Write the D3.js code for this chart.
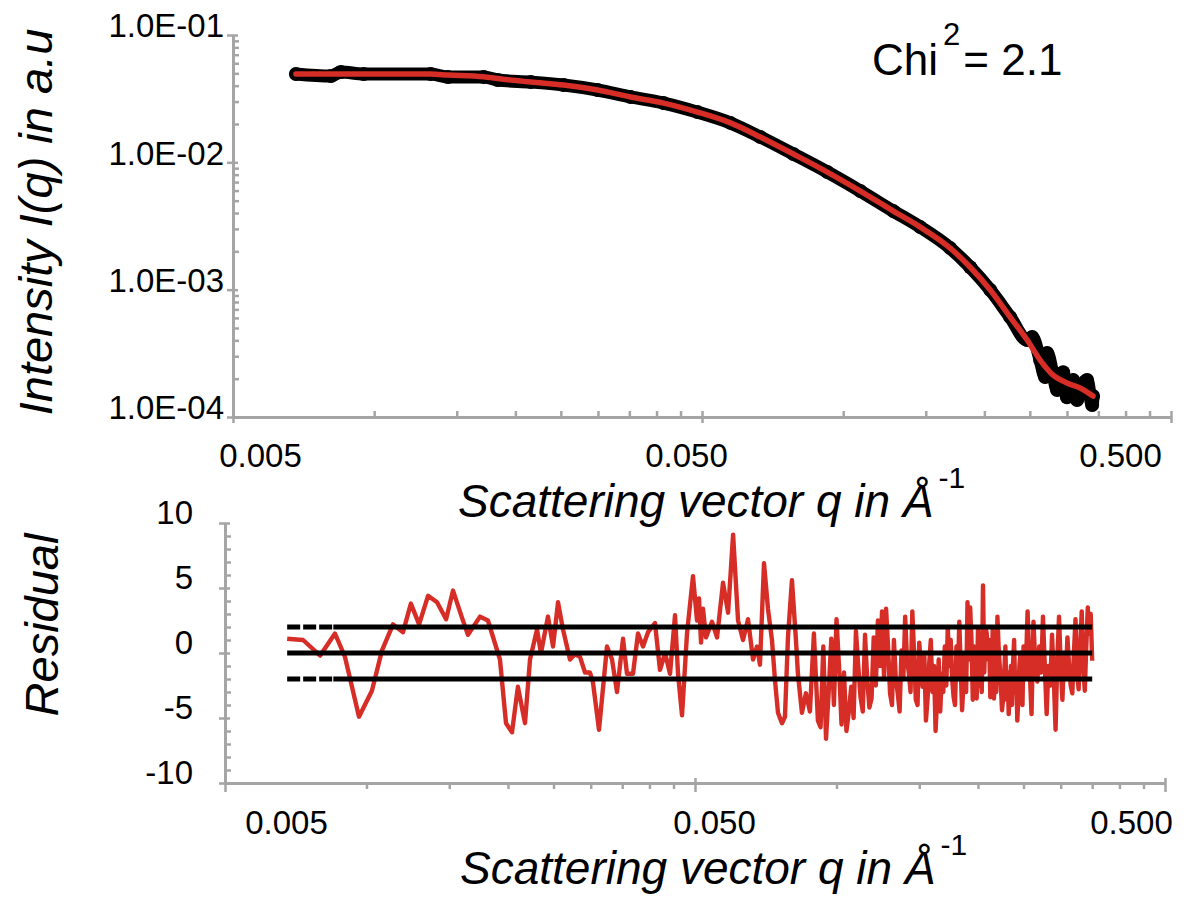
<!DOCTYPE html>
<html>
<head>
<meta charset="utf-8">
<script src="https://cdn.jsdelivr.net/npm/d3@7"></script>
<style>
  body { margin: 0; background: #fff; }
  svg { display: block; }
  text { font-family: "Liberation Sans", Arial, sans-serif; }
</style>
</head>
<body>
<div id="chart"></div>
<script>
// ---- fitted curve (red)
const fitQ = [0.00681, 0.0095, 0.0132, 0.01436, 0.01712, 0.01834, 0.02157, 0.02535, 0.02995, 0.03521,
  0.0414, 0.0489, 0.0575, 0.0666, 0.0783, 0.0925, 0.1088, 0.1279, 0.146, 0.1691,
  0.1866, 0.2059, 0.227, 0.2468, 0.263, 0.2804, 0.300, 0.320, 0.341];
const fitI = [0.0494, 0.0494, 0.0493, 0.0485, 0.0470, 0.0455, 0.0427, 0.0405, 0.0370, 0.0326,
  0.0292, 0.0248, 0.0204, 0.0158, 0.01162, 0.00839, 0.00595, 0.00414, 0.0031, 0.00212,
  0.00150, 0.000993, 0.000609, 0.000402, 0.00028, 0.000213, 0.000185, 0.000169, 0.000146];

// ---- measured intensity (black)
const obsQ = [0.00681, 0.00809, 0.00849, 0.0095, 0.0132, 0.01436, 0.01712, 0.01834, 0.02157, 0.02535,
  0.02995, 0.03521, 0.0414, 0.0489, 0.0575, 0.0666, 0.0783, 0.0925, 0.1088, 0.1279,
  0.146, 0.1691, 0.1866, 0.2059, 0.227, 0.2468, 0.2529, 0.263, 0.2695, 0.2722,
  0.2804, 0.2859, 0.2944, 0.300, 0.3092, 0.3153, 0.320, 0.3312, 0.3395, 0.341];
const obsI = [0.0494, 0.0476, 0.0512, 0.0494, 0.0494, 0.0468, 0.0468, 0.0443, 0.0427, 0.0405,
  0.0370, 0.0326, 0.0292, 0.0248, 0.0204, 0.0158, 0.01162, 0.00839, 0.00595, 0.00414,
  0.0031, 0.00212, 0.00150, 0.000993, 0.000609, 0.000402, 0.000425, 0.00028, 0.000206, 0.000318,
  0.000213, 0.000163, 0.000225, 0.000143, 0.000195, 0.000136, 0.000169, 0.000195, 0.000124, 0.000146];

// ---- residuals
const resQ = [0.00678, 0.00733, 0.00797, 0.00857, 0.0090, 0.00964, 0.01027, 0.01079, 0.01139, 0.01196,
  0.01243, 0.01294, 0.01352, 0.01413, 0.01477, 0.01528, 0.01597, 0.01644, 0.01744, 0.01813,
  0.01923, 0.01981, 0.0204, 0.0210, 0.02174, 0.02228, 0.02306, 0.02351, 0.02433, 0.02494,
  0.02556, 0.02619, 0.0271, 0.02777, 0.02846, 0.02917, 0.02989, 0.03034, 0.03124, 0.03249,
  0.0333, 0.03412, 0.03514, 0.03583, 0.0369, 0.03782, 0.03876, 0.03972, 0.0411, 0.04212,
  0.04318, 0.04424, 0.04534, 0.04601, 0.04692, 0.04808, 0.04951, 0.0505, 0.051, 0.0515,
  0.0520, 0.05277, 0.05434, 0.0557, 0.05736, 0.0588, 0.06026, 0.06174, 0.06326, 0.06483,
  0.06644, 0.06775, 0.06874, 0.07011, 0.07149, 0.0729, 0.07399, 0.07508, 0.07656, 0.0777,
  0.07884, 0.0804, 0.08199, 0.08279, 0.08443, 0.0861, 0.0878, 0.08953, 0.0913,
  0.0925, 0.09375, 0.095, 0.09625, 0.0975, 0.09875, 0.1, 0.10125, 0.1025, 0.10375,
  0.105, 0.10625, 0.1075, 0.10875, 0.11, 0.11125, 0.1125, 0.11375, 0.115, 0.11625,
  0.1175, 0.11875, 0.12, 0.12125, 0.1225, 0.12375, 0.125, 0.12625, 0.1275, 0.12875,
  0.13, 0.13125, 0.1325, 0.13375, 0.135, 0.13625, 0.1375, 0.13875, 0.14, 0.14125,
  0.1425, 0.14375, 0.145, 0.14625, 0.1475, 0.14875, 0.15, 0.15125, 0.1525, 0.15375,
  0.155, 0.15625, 0.1575, 0.15875, 0.16, 0.16125, 0.1625, 0.16375, 0.165, 0.16625,
  0.1675, 0.16875, 0.17, 0.17125, 0.1725, 0.17375, 0.175, 0.17625, 0.1775, 0.17875,
  0.18, 0.18125, 0.1825, 0.18375, 0.185, 0.18625, 0.1875, 0.18875, 0.19, 0.19125,
  0.1925, 0.19375, 0.195, 0.19625, 0.1975, 0.19875, 0.2, 0.20125, 0.2025, 0.20375,
  0.205, 0.20625, 0.2075, 0.20875, 0.21, 0.21125, 0.2125, 0.21375, 0.215, 0.21625,
  0.2175, 0.21875, 0.22, 0.22125, 0.2225, 0.22375, 0.225, 0.22625, 0.2275, 0.22875,
  0.23, 0.23125, 0.2325, 0.23375, 0.235, 0.23625, 0.2375, 0.23875, 0.24, 0.24125,
  0.2425, 0.24375, 0.245, 0.24625, 0.2475, 0.24875, 0.25,
  0.2525, 0.255, 0.2575, 0.26, 0.2625, 0.265, 0.2675, 0.27, 0.2725, 0.275,
  0.2775, 0.28, 0.2825, 0.285, 0.2875, 0.29, 0.2925, 0.295, 0.2975, 0.3,
  0.3025, 0.305, 0.3075, 0.31, 0.3125, 0.315, 0.3175, 0.32, 0.3225, 0.325,
  0.3275, 0.33, 0.3325, 0.335, 0.3375, 0.34, 0.3425, 0.345, 0.3475, 0.35];
const resVal = [1.1, 1.0, -0.2, 1.5, -0.3, -4.9, -2.9, 0.2, 2.2, 1.6,
  3.8, 2.2, 4.4, 3.9, 2.6, 4.8, 2.7, 1.4, 2.8, 2.5,
  -0.5, -5.4, -6.1, -2.6, -5.4, -0.5, 1.8, 0, 2.8, 0.5,
  3.9, 1.8, -0.5, -0.1, -0.3, -1.5, -1.5, -2.3, -5.9, 0.5,
  -0.5, -3.0, 1.1, -1.6, -1.6, 1.5, 0.5, 1.6, 2.3, -1.3,
  0, -1.6, 2.9, -1.6, -4.8, 1.5, 5.9, 2.5, 4.2, 0.8,
  3.4, 1.2, 2.4, 1.2, 5.4, 3.1, 9.1, 2.5, 1.0, 2.6,
  -0.5, 0.5, -0.9, 6.9, 3.4, 1.0, -2.1, -4.6, -5.4, -4.9,
  1.2, 5.6, 1.0, -1.6, -4.6, -3.1, -4.5, 1.5, -5.2,
  -5.7, 0.5, -6.6, -3.0, 1.1, -4.0, 2.6, -1.0, -5.5, -1.5,
  -6.0, -4.5, -2.6, -5.0, 1.7, -1.0, -3.4, -4.5, 1.4, -2.0,
  -4.2, -3.5, 1.2, -2.5, 2.5, -1.0, 3.2, -2.0, 3.4, 0.5,
  -3.1, -4.0, 1.0, -2.0, -3.1, -4.5, 0.2, -2.0, 2.8, -0.5,
  -1.5, -3.0, 3.2, 0.0, -3.6, -4.0, 0.8, -1.0, -2.6, 0.0,
  -5.2, -3.5, -0.8, 1.0, -3.0, -1.0, -6.0, -3.5, -0.5, -4.5,
  -1.6, -3.0, 0.5, -2.5, 2.0, -1.0, 1.0, -2.0, -3.4, -4.0,
  0.5, -2.0, 2.4, -1.0, -4.4, -2.5, 0.0, -3.0, 3.9, -0.5,
  3.5, 1.0, -3.6, 0.5, -1.0, -3.5, 1.8, -2.5, -1.5, -3.0,
  5.2, -1.5, 2.0, 1.5, -0.5, 1.0, -3.4, -2.0, 1.8, -3.5,
  -2.0, -3.0, 2.8, 0.5, -1.0, -2.5, -4.4, -3.5, -1.5, 0.5,
  -3.6, -1.5, -4.7, -3.0, -1.0, -4.0, -0.8, 1.0, -3.0, -1.5,
  -5.2, -3.5, -1.0, 0.0, -3.6, -4.0, 0.5,
  -2.0, 3.2, -1.0, -4.7, 2.4, -1.0, -2.2, 0.5, -1.5, 2.8,
  -1.0, -4.7, -1.0, -2.5, 1.4, -2.0, -5.9, -0.5, 2.8, -1.0,
  -3.6, 0.0, -2.0, 1.2, -1.0, -2.5, -3.1, 0.0, 2.6, -1.5,
  -2.8, 0.5, 3.2, -1.0, -2.9, 0.5, 3.5, 1.5, 3.0, -0.6];
const bandLevels = [-2, 0, 2];

// ---- ticks and labels
const qMajorTicks = [0.005, 0.05, 0.5];
const qMinorTicks = [0.01, 0.015, 0.02, 0.025, 0.03, 0.035, 0.04, 0.045,
  0.1, 0.15, 0.2, 0.25, 0.3, 0.35, 0.4, 0.45];
const intensityTicks = [1e-4, 1e-3, 1e-2, 1e-1];
const intensityTickLabels = ["1.0E-04", "1.0E-03", "1.0E-02", "1.0E-01"];
const residualTicks = [-10, -5, 0, 5, 10];
const chiValue = "2.1";

const W = 1195, H = 897;
const gray = "#a5a5a5", red = "#d62d27";

const svg = d3.select("#chart").append("svg")
    .attr("width", W)
    .attr("height", H);

const x1 = d3.scaleLog().domain([0.005, 0.5]).range([233, 1171]);
const y1 = d3.scaleLog().domain([1e-4, 1e-1]).range([417, 35]);
const x2 = d3.scaleLog().domain([0.005, 0.5]).range([225, 1165]);
const y2 = d3.scaleLinear().domain([-10, 10]).range([783, 523]);

function styleAxis(g) {
  g.attr("color", gray).attr("font-size", 33).attr("font-family", null);
  g.selectAll("path").attr("stroke-width", 3);
  g.selectAll("line").attr("stroke-width", 2.5);
  g.selectAll("text").attr("fill", "#000");
}

// ===== top panel axes
svg.append("g")
    .attr("transform", "translate(0,417)")
    .call(d3.axisBottom(x1).tickValues(qMinorTicks).tickSize(-6).tickSizeOuter(0).tickFormat(""))
    .call(styleAxis);
let gx = svg.append("g")
    .attr("transform", "translate(0,417)")
    .call(d3.axisBottom(x1).tickValues(qMajorTicks).tickSize(6).tickSizeOuter(0).tickFormat(d3.format(".3f")))
    .call(styleAxis);
const topShift = [27, -16, -51];
gx.selectAll(".tick line").attr("y1", -6);
gx.selectAll(".tick text").attr("y", 50).attr("dy", 0).attr("dx", (d, i) => topShift[i]);

svg.append("g")
    .attr("transform", "translate(233,0)")
    .call(d3.axisLeft(y1).tickValues(y1.ticks().filter(t => intensityTicks.indexOf(t) < 0))
      .tickSize(-6).tickSizeOuter(0).tickFormat(""))
    .call(styleAxis);
let gy = svg.append("g")
    .attr("transform", "translate(233,0)")
    .call(d3.axisLeft(y1).tickValues(intensityTicks).tickSize(6).tickSizeOuter(0)
      .tickFormat((d, i) => intensityTickLabels[i]))
    .call(styleAxis);
gy.selectAll(".tick line").attr("x1", 5);
gy.selectAll(".tick text").attr("x", -9).attr("dy", "0.06em");

// ===== top panel data
const obs = obsQ.map((q, i) => ({q: q, v: obsI[i]}));
const fit = fitQ.map((q, i) => ({q: q, v: fitI[i]}));

svg.append("path")
    .datum(obs)
    .attr("fill", "none")
    .attr("stroke", "#000")
    .attr("stroke-width", 13)
    .attr("stroke-linejoin", "round")
    .attr("stroke-linecap", "round")
    .attr("d", d3.line().x(d => x1(d.q)).y(d => y1(d.v)).curve(d3.curveMonotoneX));
svg.selectAll(".obsdot")
    .data(obs)
    .enter()
    .append("circle")
    .attr("cx", d => x1(d.q))
    .attr("cy", d => y1(d.v))
    .attr("r", 7)
    .attr("fill", "#000");

svg.append("path")
    .datum(fit)
    .attr("fill", "none")
    .attr("stroke", red)
    .attr("stroke-width", 5.5)
    .attr("stroke-linejoin", "round")
    .attr("stroke-linecap", "round")
    .attr("d", d3.line().x(d => x1(d.q)).y(d => y1(d.v)).curve(d3.curveMonotoneX));

// chi^2 annotation
const chi = svg.append("text").attr("x", 872).attr("y", 75).attr("font-size", 44).attr("fill", "#000");
chi.append("tspan").text("Chi");
chi.append("tspan").attr("dx", 5).attr("dy", -30).attr("font-size", 31).text("2");
chi.append("tspan").attr("dx", 3).attr("dy", 30).text("= " + chiValue);

// axis titles, top
const tx1 = svg.append("text").attr("x", 458).attr("y", 517).attr("font-size", 46)
    .attr("font-style", "italic").attr("fill", "#000");
tx1.append("tspan").text("Scattering vector q in Å");
tx1.append("tspan").attr("dx", 5).attr("dy", -29).attr("font-size", 30).attr("font-style", "normal").text("-1");

svg.append("text")
    .attr("transform", "translate(52,222) rotate(-90)")
    .attr("text-anchor", "middle")
    .attr("font-size", 47)
    .attr("font-style", "italic")
    .attr("fill", "#000")
    .text("Intensity I(q) in a.u");

// ===== residual panel axes
svg.append("g")
    .attr("transform", "translate(0,783)")
    .call(d3.axisBottom(x2).tickValues(qMinorTicks).tickSize(6).tickSizeOuter(0).tickFormat(""))
    .call(styleAxis);
let gx2 = svg.append("g")
    .attr("transform", "translate(0,783)")
    .call(d3.axisBottom(x2).tickValues(qMajorTicks).tickSize(9).tickSizeOuter(0).tickFormat(d3.format(".3f")))
    .call(styleAxis);
const botShift = [61, 19, -34];
gx2.selectAll(".tick line").attr("y1", -5);
gx2.selectAll(".tick text").attr("y", 51).attr("dy", 0).attr("dx", (d, i) => botShift[i]);

svg.append("g")
    .attr("transform", "translate(225,0)")
    .call(d3.axisLeft(y2).tickValues(y2.ticks(20).filter(t => residualTicks.indexOf(t) < 0))
      .tickSize(-6).tickSizeOuter(0).tickFormat(""))
    .call(styleAxis);
let gy2 = svg.append("g")
    .attr("transform", "translate(225,0)")
    .call(d3.axisLeft(y2).tickValues(residualTicks).tickSize(6).tickSizeOuter(0).tickFormat(d => String(d)))
    .call(styleAxis);
gy2.selectAll(".tick line").attr("x1", 5);
gy2.selectAll(".tick text").attr("x", -32).attr("dy", 0);

// ===== residual data
const res = resQ.map((q, i) => ({q: q, v: resVal[i]}));
svg.append("path")
    .datum(res)
    .attr("fill", "none")
    .attr("stroke", red)
    .attr("stroke-width", 4.4)
    .attr("stroke-linejoin", "round")
    .attr("d", d3.line().x(d => x2(d.q)).y(d => y2(d.v)));

const qFirst = resQ[0], qLast = resQ[resQ.length - 1], qDashEnd = 0.0085;
bandLevels.forEach(function (lv) {
  if (lv !== 0) {
    svg.append("line")
        .attr("x1", x2(qFirst)).attr("x2", x2(qDashEnd))
        .attr("y1", y2(lv)).attr("y2", y2(lv))
        .attr("stroke", "#000").attr("stroke-width", 5)
        .attr("stroke-dasharray", "13,3");
  }
  svg.append("line")
      .attr("x1", x2(lv === 0 ? qFirst : qDashEnd)).attr("x2", x2(qLast))
      .attr("y1", y2(lv)).attr("y2", y2(lv))
      .attr("stroke", "#000").attr("stroke-width", 5);
});

// axis titles, residual
const tx2 = svg.append("text").attr("x", 460).attr("y", 884).attr("font-size", 46)
    .attr("font-style", "italic").attr("fill", "#000");
tx2.append("tspan").text("Scattering vector q in Å");
tx2.append("tspan").attr("dx", 5).attr("dy", -29).attr("font-size", 30).attr("font-style", "normal").text("-1");

svg.append("text")
    .attr("transform", "translate(58,625) rotate(-90)")
    .attr("text-anchor", "middle")
    .attr("font-size", 47)
    .attr("font-style", "italic")
    .attr("fill", "#000")
    .text("Residual");
</script>
</body>
</html>
